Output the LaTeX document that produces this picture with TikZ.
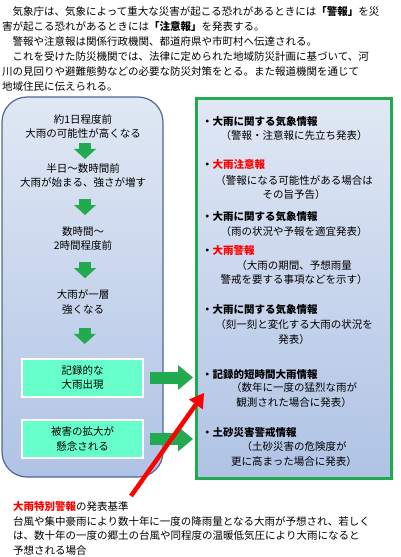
\documentclass[tikz,border=0pt]{standalone}
\usepackage{fontspec}
\setmainfont{Noto Sans CJK JP}
\definecolor{flowblue}{RGB}{79, 104, 148}
\definecolor{shadetop}{RGB}{224, 232, 244}
\definecolor{shadebot}{RGB}{176, 195, 229}
\definecolor{arrowgreen}{RGB}{34, 170, 80}
\definecolor{eventaqua}{RGB}{102, 255, 204}
\definecolor{alertred}{RGB}{255, 0, 0}
\usetikzlibrary{arrows.meta, calc}
\newcommand{\diagfont}{\fontsize{10.5}{14.5}\selectfont}

\begin{document}
\begin{tikzpicture}[x=1pt, y=-1pt, font=\diagfont,
  para/.style={anchor=north west, align=left, inner sep=0pt, font=\fontsize{10.5}{15}\selectfont},
  flowpanel/.style={rounded corners=25pt, top color=shadetop, bottom color=shadebot, draw=flowblue, line width=1.2pt, minimum width=161pt, minimum height=380pt, inner sep=0pt},
  infopanel/.style={top color=shadetop, bottom color=shadebot, draw=arrowgreen, line width=3pt, minimum width=195pt, minimum height=380pt, inner sep=0pt},
  stage/.style={align=center, inner sep=0pt},
  event/.style={fill=eventaqua, draw=white, line width=2pt, minimum width=121pt, minimum height=38pt, align=center},
  item/.style={anchor=west, inner sep=0pt, font=\diagfont\bfseries},
  note/.style={align=center, inner sep=0pt},
  downarrow/.style={arrowgreen, line width=12pt, -{Triangle[length=10pt, width=22pt, line width=0pt]}},
  rightarrow/.style={arrowgreen, line width=12pt, -{Triangle[length=15pt, width=25pt, line width=0pt]}, shorten <=6pt, shorten >=2pt},
  redarrow/.style={alertred, line width=4.5pt, -{Triangle[length=14pt, width=17pt, line width=0pt]}}
]
  \useasboundingbox (0,0) rectangle (400,557);

  \node[para] (intro) at (2,6.5) {
    　気象庁は、気象によって重大な災害が起こる恐れがあるときには\textbf{「警報」}を災\\
    害が起こる恐れがあるときには\textbf{「注意報」}を発表する。\\
    　警報や注意報は関係行政機関、都道府県や市町村へ伝達される。\\
    　これを受けた防災機関では、法律に定められた地域防災計画に基づいて、河\\
    川の見回りや避難態勢などの必要な防災対策をとる。また報道機関を通じて\\
    地域住民に伝えられる。
  };

  \node[flowpanel] (flow) at (82.5,287) {};
  \node[infopanel] (info) at (294,288) {};

  \node[stage] (st1) at (83,126.5) {約1日程度前\\大雨の可能性が高くなる};
  \node[stage] (st2) at (83,175.5) {半日～数時間前\\大雨が始まる、強さが増す};
  \node[stage] (st3) at (83,238.5) {数時間～\\2時間程度前};
  \node[stage] (st4) at (83,302) {大雨が一層\\強くなる};
  \node[event] (rec) at (82.5,377.5) {記録的な\\大雨出現};
  \node[event] (dmg) at (82.5,439) {被害の拡大が\\懸念される};

  \foreach \a/\b in {st1/st2, st2/st3, st3/st4, st4/rec}
    \draw[downarrow] ($(\a.south)!.5!(\b.north)$) ++(2,-8) -- ++(0,16);
  \foreach \b in {rec, dmg}
    \draw[rightarrow] (\b) -- (\b -| info.west);

  \node[item] (h1) at (202,122) {・大雨に関する気象情報};
  \node[note] (n1) at (294,136) {（警報・注意報に先立ち発表）};
  \node[item] (h2) at (202,165) {・\textcolor{alertred}{大雨注意報}};
  \node[note] (n2) at (294,187.5) {（警報になる可能性がある場合は\\その旨予告）};
  \node[item] (h3) at (202,217) {・大雨に関する気象情報};
  \node[note] (n3) at (294,232) {（雨の状況や予報を適宜発表）};
  \node[item] (h4) at (202,251) {・\textcolor{alertred}{大雨警報}};
  \node[note] (n4) at (294,272.5) {（大雨の期間、予想雨量\\警戒を要する事項などを示す）};
  \node[item] (h5) at (202,310) {・大雨に関する気象情報};
  \node[note] (n5) at (294,332) {（刻一刻と変化する大雨の状況を\\発表）};
  \node[item] (h6) at (202,375) {・記録的短時間大雨情報};
  \node[note] (n6) at (294,395) {（数年に一度の猛烈な雨が\\観測された場合に発表）};
  \node[item] (h7) at (202,433) {・土砂災害警戒情報};
  \node[note] (n7) at (294,454) {（土砂災害の危険度が\\更に高まった場合に発表）};

  \node[para, font=\diagfont] (rule) at (13,501.5) {
    \textcolor{alertred}{\textbf{大雨特別警報}}の発表基準\\
    台風や集中豪雨により数十年に一度の降雨量となる大雨が予想され、若しく\\
    は、数十年の一度の郷土の台風や同程度の温暖低気圧により大雨になると\\
    予想される場合
  };

  \coordinate (redtail) at (131,496);
  \coordinate (redtip) at (204,393);
  \draw[redarrow] (redtail) -- (redtip);
\end{tikzpicture}
\end{document}
